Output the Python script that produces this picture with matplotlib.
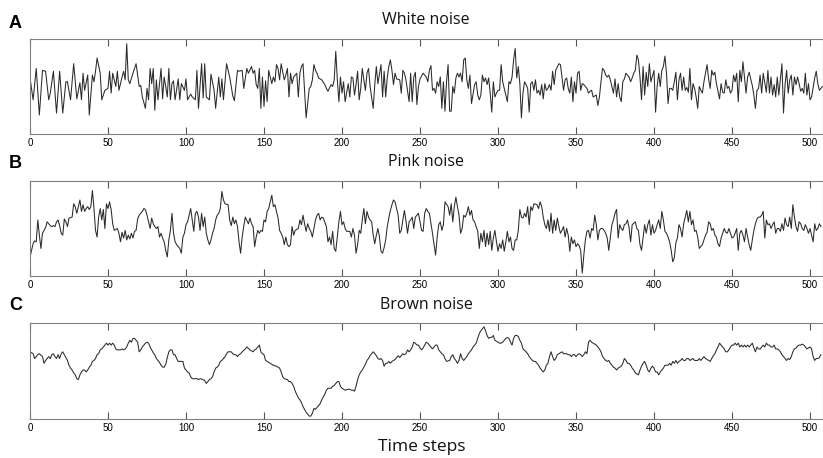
import numpy as np
import matplotlib
matplotlib.use("Agg")
import matplotlib.pyplot as plt

# (time step, level); level is 0 (axis bottom) .. 100 (axis top)
white_pts = [
    (0, 59), (2, 36), (4, 69), (6, 20), (8, 67), (10, 66), (12, 36), (13, 43), (15, 66), (17, 22),
    (19, 66), (21, 22), (23, 55), (24, 55), (26, 36), (28, 74), (30, 37), (32, 54), (33, 36), (34, 64),
    (35, 46), (37, 62), (38, 20), (40, 62), (41, 55), (42, 66), (43, 80), (45, 64), (46, 36), (48, 46),
    (50, 48), (51, 66), (52, 43), (53, 64), (55, 50), (56, 66), (57, 46), (59, 60), (60, 66), (61, 57),
    (62, 95), (63, 57), (64, 53), (66, 64), (68, 74), (70, 50), (71, 51), (72, 39), (74, 27), (75, 48),
    (76, 36), (77, 69), (78, 53), (79, 69), (80, 25), (81, 57), (82, 36), (84, 69), (85, 37), (86, 60),
    (87, 50), (88, 39), (89, 69), (90, 36), (91, 53), (92, 56), (93, 36), (95, 58), (96, 36), (97, 53),
    (99, 46), (100, 58), (101, 36), (103, 42), (104, 39), (106, 36), (107, 67), (108, 27), (110, 74), (111, 38),
    (112, 74), (113, 39), (115, 36), (116, 63), (118, 46), (119, 27), (121, 60), (122, 39), (123, 58), (124, 36),
    (126, 74), (128, 60), (130, 40), (131, 35), (133, 67), (134, 66), (136, 67), (137, 48), (139, 69), (140, 64),
    (142, 71), (143, 64), (144, 67), (145, 52), (146, 48), (147, 69), (148, 27), (149, 60), (150, 29), (151, 56),
    (152, 34), (153, 67), (155, 53), (156, 60), (157, 55), (158, 73), (159, 69), (160, 57), (161, 74), (163, 57),
    (164, 62), (165, 69), (166, 39), (167, 64), (168, 53), (169, 60), (171, 64), (172, 39), (173, 64), (174, 71),
    (175, 74), (176, 46), (177, 17), (179, 48), (180, 50), (181, 57), (182, 73), (183, 67), (184, 64), (185, 59),
    (187, 57), (189, 52), (190, 48), (191, 45), (193, 52), (194, 50), (195, 57), (196, 87), (197, 57), (198, 34),
    (199, 60), (200, 43), (201, 55), (202, 34), (204, 53), (205, 39), (206, 60), (207, 59), (208, 41), (209, 52),
    (210, 66), (211, 36), (212, 48), (213, 69), (214, 57), (215, 46), (216, 64), (217, 69), (218, 50), (220, 27),
    (221, 52), (222, 71), (223, 53), (225, 73), (226, 39), (227, 66), (228, 39), (229, 59), (230, 71), (231, 78),
    (232, 67), (233, 52), (234, 64), (235, 58), (237, 57), (238, 43), (239, 67), (240, 64), (241, 57), (243, 34),
    (244, 64), (245, 34), (246, 60), (247, 65), (248, 31), (249, 50), (250, 58), (252, 64), (254, 60), (255, 55),
    (256, 67), (257, 72), (258, 46), (259, 48), (260, 43), (261, 55), (262, 50), (263, 60), (264, 27), (265, 55),
    (266, 24), (267, 55), (268, 73), (269, 24), (270, 24), (271, 50), (272, 43), (273, 59), (274, 64), (275, 60),
    (276, 64), (277, 55), (278, 78), (279, 80), (280, 57), (281, 48), (282, 62), (283, 32), (285, 52), (286, 55),
    (287, 41), (288, 36), (289, 41), (290, 62), (291, 55), (292, 59), (293, 52), (294, 59), (295, 43), (296, 23),
    (297, 55), (298, 39), (299, 43), (300, 46), (301, 46), (302, 73), (303, 55), (304, 48), (305, 41), (306, 34),
    (307, 55), (308, 53), (309, 60), (310, 78), (311, 90), (312, 59), (313, 71), (314, 53), (315, 17), (316, 43),
    (317, 55), (318, 52), (319, 48), (320, 23), (321, 53), (322, 55), (323, 46), (324, 57), (325, 43), (326, 46),
    (327, 41), (328, 52), (329, 37), (330, 53), (331, 46), (332, 48), (333, 52), (334, 46), (335, 66), (336, 52),
    (337, 67), (339, 74), (340, 73), (341, 60), (342, 46), (343, 57), (344, 59), (345, 48), (346, 43), (347, 60),
    (348, 34), (349, 55), (350, 43), (351, 64), (352, 66), (353, 46), (354, 53), (355, 52), (356, 50), (357, 48),
    (358, 43), (359, 45), (360, 46), (361, 39), (363, 41), (364, 30), (365, 39), (366, 55), (367, 69), (368, 67),
    (369, 62), (370, 60), (371, 62), (372, 57), (374, 43), (375, 58), (376, 39), (377, 53), (378, 39), (379, 34),
    (380, 55), (381, 58), (382, 64), (384, 60), (385, 55), (386, 59), (387, 64), (388, 67), (389, 83), (390, 78),
    (391, 60), (392, 36), (393, 71), (394, 41), (395, 65), (396, 50), (397, 74), (398, 55), (400, 67), (401, 23),
    (402, 50), (403, 64), (404, 50), (405, 67), (406, 71), (407, 82), (408, 64), (409, 32), (410, 48), (411, 48),
    (412, 46), (413, 55), (414, 65), (415, 36), (416, 57), (417, 64), (418, 46), (419, 60), (420, 46), (421, 49),
    (422, 44), (423, 69), (424, 36), (425, 53), (426, 48), (427, 39), (428, 27), (429, 50), (430, 46), (431, 43),
    (432, 55), (434, 73), (435, 58), (436, 48), (437, 67), (438, 62), (439, 65), (440, 53), (442, 37), (443, 53),
    (444, 44), (445, 43), (446, 57), (447, 48), (448, 50), (449, 43), (450, 46), (451, 62), (452, 55), (453, 64),
    (454, 34), (455, 67), (456, 55), (457, 76), (458, 60), (459, 43), (460, 60), (461, 65), (462, 58), (463, 51),
    (464, 41), (465, 27), (466, 46), (467, 48), (468, 62), (469, 43), (470, 64), (472, 44), (473, 67), (474, 43),
    (475, 60), (476, 41), (477, 52), (478, 39), (479, 60), (480, 41), (482, 74), (483, 22), (484, 52), (485, 67),
    (486, 43), (487, 57), (488, 62), (489, 41), (490, 60), (491, 52), (492, 60), (493, 53), (494, 45), (495, 48),
    (496, 43), (497, 64), (498, 41), (499, 53), (500, 36), (501, 39), (503, 59), (504, 66), (505, 53), (506, 46),
    (508, 50),
]

pink_pts = [
    (0, 20), (1, 27), (2, 34), (3, 37), (4, 36), (5, 59), (6, 43), (7, 29), (8, 45), (10, 51),
    (11, 57), (12, 55), (13, 53), (14, 52), (15, 53), (16, 52), (17, 57), (18, 59), (19, 53), (20, 45),
    (21, 43), (22, 60), (23, 57), (24, 52), (25, 61), (27, 62), (28, 76), (29, 73), (30, 66), (31, 73),
    (32, 80), (33, 68), (34, 75), (35, 68), (36, 71), (37, 73), (38, 70), (39, 73), (40, 90), (41, 71),
    (42, 48), (43, 41), (44, 62), (45, 71), (46, 59), (47, 70), (48, 50), (49, 76), (50, 71), (51, 78),
    (52, 70), (53, 55), (54, 48), (56, 50), (57, 45), (58, 36), (59, 46), (60, 40), (61, 48), (62, 38),
    (63, 43), (64, 39), (65, 45), (66, 40), (67, 47), (68, 48), (69, 60), (70, 64), (71, 66), (72, 68),
    (73, 71), (74, 70), (75, 64), (76, 57), (77, 50), (78, 61), (79, 55), (80, 52), (81, 50), (82, 52),
    (83, 41), (84, 45), (85, 40), (86, 36), (87, 27), (88, 20), (89, 38), (90, 48), (91, 66), (92, 45),
    (93, 36), (94, 33), (95, 31), (96, 29), (97, 24), (98, 41), (99, 45), (100, 54), (101, 57), (102, 64),
    (103, 71), (104, 59), (105, 47), (106, 66), (107, 68), (108, 62), (109, 48), (110, 66), (111, 52), (112, 62),
    (113, 45), (114, 38), (115, 33), (116, 38), (117, 45), (118, 50), (119, 59), (120, 64), (121, 66), (122, 71),
    (123, 89), (124, 80), (125, 76), (127, 75), (128, 59), (129, 53), (130, 62), (131, 55), (132, 59), (133, 52),
    (134, 36), (135, 24), (136, 41), (137, 52), (138, 62), (140, 55), (141, 61), (142, 55), (143, 52), (144, 31),
    (145, 41), (146, 48), (147, 45), (148, 48), (149, 47), (150, 59), (151, 57), (152, 68), (153, 71), (154, 78),
    (155, 85), (156, 73), (157, 75), (158, 68), (159, 61), (160, 48), (161, 45), (162, 41), (163, 33), (164, 41),
    (165, 33), (166, 31), (167, 33), (168, 52), (169, 43), (170, 48), (172, 50), (173, 59), (174, 54), (175, 64),
    (176, 55), (177, 47), (178, 55), (179, 50), (180, 47), (181, 41), (182, 50), (183, 59), (184, 64), (185, 66),
    (186, 59), (187, 62), (188, 61), (190, 52), (191, 36), (192, 41), (193, 33), (194, 47), (195, 29), (196, 26),
    (197, 41), (198, 57), (199, 68), (200, 54), (201, 57), (202, 50), (203, 47), (205, 47), (206, 41), (207, 50),
    (208, 43), (209, 24), (210, 33), (211, 48), (212, 45), (213, 59), (214, 71), (215, 55), (216, 68), (217, 62),
    (218, 59), (219, 57), (220, 43), (221, 34), (222, 43), (223, 50), (224, 41), (225, 26), (226, 24), (227, 30),
    (228, 38), (229, 52), (230, 61), (231, 69), (232, 75), (233, 80), (234, 78), (235, 71), (236, 64), (237, 45),
    (238, 48), (239, 59), (240, 69), (241, 58), (242, 45), (243, 57), (244, 59), (245, 62), (246, 50), (247, 62),
    (248, 64), (249, 66), (250, 57), (251, 48), (252, 47), (253, 66), (254, 71), (255, 68), (256, 66), (258, 45),
    (259, 33), (260, 22), (261, 41), (262, 54), (263, 57), (264, 48), (265, 54), (266, 78), (268, 73), (269, 64),
    (270, 76), (271, 57), (272, 73), (273, 83), (274, 73), (275, 64), (276, 45), (277, 50), (278, 64), (279, 62),
    (280, 66), (281, 73), (282, 64), (283, 69), (284, 59), (285, 57), (286, 52), (287, 47), (288, 29), (289, 45),
    (290, 36), (291, 48), (292, 31), (293, 45), (294, 33), (295, 47), (296, 27), (297, 40), (298, 48), (299, 36),
    (300, 26), (301, 34), (302, 29), (303, 38), (304, 26), (305, 36), (306, 47), (307, 36), (308, 41), (309, 29),
    (310, 27), (311, 38), (312, 38), (313, 48), (314, 70), (315, 62), (316, 61), (317, 66), (318, 62), (319, 73),
    (320, 54), (321, 73), (322, 69), (323, 76), (325, 75), (326, 71), (327, 78), (328, 73), (329, 62), (330, 54),
    (331, 50), (332, 59), (333, 47), (334, 66), (335, 45), (336, 59), (337, 48), (338, 61), (339, 52), (340, 45),
    (341, 48), (342, 52), (343, 41), (344, 50), (345, 43), (346, 26), (347, 41), (348, 34), (349, 38), (350, 31),
    (351, 34), (352, 32), (353, 27), (354, 3), (355, 22), (356, 38), (357, 47), (358, 48), (359, 40), (360, 50),
    (361, 48), (362, 64), (363, 54), (364, 38), (365, 48), (366, 50), (367, 50), (368, 48), (369, 45), (370, 40),
    (371, 27), (372, 41), (373, 54), (374, 59), (375, 66), (376, 70), (377, 40), (378, 54), (379, 50), (380, 48),
    (381, 54), (382, 55), (383, 59), (384, 51), (385, 36), (386, 54), (388, 57), (389, 50), (390, 48), (391, 33),
    (392, 27), (393, 41), (394, 54), (395, 45), (396, 54), (397, 59), (398, 43), (399, 54), (400, 45), (401, 48),
    (402, 54), (403, 59), (404, 50), (405, 68), (406, 59), (407, 47), (408, 45), (409, 41), (410, 36), (411, 27),
    (412, 15), (413, 19), (414, 35), (415, 40), (416, 54), (417, 50), (418, 41), (419, 55), (420, 62), (421, 69),
    (422, 57), (423, 68), (424, 54), (425, 59), (426, 47), (427, 48), (428, 41), (429, 29), (430, 31), (431, 33),
    (432, 38), (433, 43), (434, 46), (435, 57), (436, 55), (437, 48), (438, 50), (439, 43), (440, 41), (441, 34),
    (442, 31), (443, 40), (444, 45), (445, 50), (446, 46), (447, 45), (448, 50), (450, 40), (451, 41), (452, 45),
    (453, 50), (454, 27), (455, 45), (456, 48), (457, 43), (458, 36), (459, 50), (460, 41), (461, 33), (462, 27),
    (463, 38), (464, 48), (465, 55), (466, 60), (467, 62), (468, 62), (469, 64), (470, 68), (471, 40), (472, 59),
    (473, 54), (474, 55), (475, 50), (476, 54), (477, 57), (478, 45), (479, 50), (480, 50), (481, 47), (482, 55),
    (483, 48), (484, 61), (485, 54), (486, 52), (487, 62), (488, 50), (489, 75), (490, 62), (491, 52), (492, 47),
    (493, 57), (494, 55), (495, 50), (496, 48), (497, 54), (498, 50), (499, 45), (500, 50), (501, 43), (502, 36),
    (503, 55), (504, 48), (505, 50), (506, 55), (507, 52),
]

brown_pts = [
    (0, 70), (2, 68), (3, 63), (4, 65), (5, 67), (6, 68), (8, 65), (9, 58), (10, 61), (11, 63),
    (12, 65), (13, 63), (14, 67), (15, 68), (16, 65), (17, 63), (18, 67), (19, 63), (20, 68), (21, 70),
    (22, 67), (24, 61), (25, 56), (26, 53), (27, 51), (28, 48), (29, 46), (30, 42), (31, 41), (32, 46),
    (33, 49), (34, 51), (35, 51), (36, 49), (37, 51), (38, 54), (39, 56), (40, 60), (41, 61), (42, 63),
    (43, 67), (44, 68), (45, 72), (46, 73), (47, 75), (48, 77), (49, 79), (50, 77), (51, 79), (52, 77),
    (53, 79), (54, 77), (55, 73), (56, 72), (58, 72), (59, 73), (60, 72), (61, 73), (62, 75), (63, 79),
    (64, 82), (65, 80), (66, 84), (67, 84), (68, 82), (69, 80), (70, 70), (71, 72), (72, 75), (74, 79),
    (75, 80), (76, 79), (77, 75), (78, 72), (79, 69), (80, 67), (81, 63), (82, 61), (83, 59), (84, 56),
    (85, 54), (86, 54), (87, 57), (88, 64), (89, 70), (90, 72), (91, 72), (92, 67), (93, 67), (94, 63),
    (95, 60), (96, 60), (97, 60), (98, 60), (99, 53), (100, 51), (101, 49), (102, 48), (103, 44), (104, 42),
    (105, 42), (107, 42), (108, 41), (109, 42), (111, 41), (112, 40), (113, 37), (114, 39), (115, 41), (116, 42),
    (117, 44), (118, 49), (119, 53), (120, 54), (121, 56), (122, 60), (123, 61), (125, 65), (126, 68), (127, 70),
    (128, 70), (129, 70), (130, 68), (131, 67), (132, 67), (133, 65), (134, 67), (135, 68), (136, 70), (138, 73),
    (139, 75), (141, 72), (143, 70), (144, 72), (145, 73), (146, 75), (147, 77), (148, 70), (149, 68), (150, 67),
    (151, 61), (152, 60), (154, 58), (156, 56), (158, 55), (160, 53), (161, 49), (162, 44), (163, 42), (165, 41),
    (166, 39), (167, 39), (168, 37), (169, 34), (170, 29), (172, 22), (173, 20), (174, 17), (175, 13), (176, 10),
    (177, 7), (178, 5), (179, 3), (180, 3), (181, 6), (182, 11), (183, 10), (184, 12), (185, 14), (186, 16),
    (187, 20), (188, 23), (189, 26), (190, 30), (191, 32), (193, 32), (194, 34), (195, 35), (196, 37), (197, 39),
    (198, 39), (199, 34), (200, 32), (201, 31), (202, 30), (204, 31), (205, 31), (206, 30), (207, 30), (208, 29),
    (209, 34), (210, 41), (211, 46), (212, 49), (213, 51), (214, 54), (215, 57), (216, 61), (217, 63), (218, 66),
    (219, 68), (220, 70), (221, 68), (222, 66), (223, 63), (224, 62), (225, 63), (226, 61), (227, 55), (228, 58),
    (229, 58), (230, 60), (231, 58), (232, 60), (233, 61), (234, 62), (235, 64), (236, 66), (237, 64), (238, 66),
    (239, 68), (240, 67), (241, 68), (242, 72), (243, 70), (244, 72), (245, 75), (246, 80), (247, 79), (248, 77),
    (249, 77), (250, 74), (251, 72), (252, 74), (253, 77), (254, 80), (255, 79), (256, 77), (257, 75), (258, 73),
    (259, 75), (260, 77), (261, 77), (262, 72), (263, 70), (264, 68), (265, 67), (266, 63), (267, 60), (269, 61),
    (270, 65), (271, 67), (272, 63), (273, 61), (274, 58), (275, 61), (276, 68), (277, 63), (278, 61), (279, 63),
    (280, 65), (281, 68), (282, 70), (283, 72), (284, 75), (286, 79), (287, 84), (288, 89), (289, 92), (290, 94),
    (291, 96), (292, 92), (293, 87), (294, 84), (295, 85), (296, 85), (297, 87), (298, 82), (300, 80), (301, 79),
    (302, 79), (303, 80), (304, 82), (305, 84), (306, 85), (307, 84), (308, 80), (309, 77), (310, 84), (311, 87),
    (312, 87), (313, 86), (314, 82), (315, 79), (316, 73), (318, 70), (319, 68), (320, 65), (321, 63), (322, 61),
    (323, 60), (324, 60), (325, 58), (326, 56), (327, 53), (328, 51), (329, 49), (330, 51), (331, 56), (332, 58),
    (333, 65), (334, 70), (335, 65), (336, 61), (337, 63), (338, 67), (339, 68), (341, 70), (342, 68), (344, 68),
    (345, 67), (346, 67), (347, 65), (348, 67), (349, 67), (350, 65), (351, 67), (352, 68), (353, 67), (354, 65),
    (355, 67), (356, 70), (357, 68), (358, 80), (359, 82), (360, 80), (361, 79), (362, 78), (363, 77), (364, 75),
    (365, 73), (366, 70), (367, 65), (368, 63), (369, 61), (370, 60), (371, 61), (372, 58), (373, 56), (374, 54),
    (375, 53), (376, 51), (377, 53), (378, 54), (379, 55), (380, 58), (381, 63), (382, 61), (383, 58), (384, 58),
    (385, 56), (386, 53), (387, 51), (388, 48), (390, 46), (391, 51), (392, 55), (393, 58), (394, 60), (395, 56),
    (396, 51), (397, 49), (398, 53), (399, 55), (400, 53), (401, 49), (402, 49), (403, 46), (404, 49), (405, 51),
    (406, 53), (407, 56), (408, 56), (409, 56), (410, 58), (411, 56), (412, 60), (413, 58), (414, 61), (415, 58),
    (416, 60), (417, 61), (418, 63), (419, 61), (420, 61), (421, 63), (422, 63), (423, 61), (424, 62), (425, 63),
    (426, 61), (427, 61), (428, 61), (429, 63), (430, 61), (431, 63), (432, 65), (433, 63), (434, 62), (435, 61),
    (436, 60), (437, 63), (438, 66), (439, 68), (440, 72), (441, 75), (442, 79), (443, 77), (444, 75), (445, 73),
    (446, 70), (447, 70), (448, 72), (449, 75), (450, 77), (451, 77), (452, 79), (453, 77), (454, 79), (455, 75),
    (456, 77), (457, 75), (458, 77), (459, 75), (460, 77), (461, 75), (462, 77), (463, 79), (464, 74), (465, 70),
    (466, 75), (467, 73), (468, 73), (469, 75), (470, 77), (471, 75), (472, 79), (473, 77), (474, 77), (475, 75),
    (476, 75), (477, 77), (478, 73), (479, 73), (480, 72), (481, 70), (482, 67), (483, 65), (484, 63), (485, 61),
    (486, 63), (487, 62), (488, 65), (489, 70), (490, 73), (491, 74), (492, 76), (493, 77), (494, 77), (495, 78),
    (496, 77), (497, 75), (498, 73), (499, 74), (500, 75), (501, 73), (502, 65), (503, 61), (504, 63), (505, 63),
    (506, 64), (507, 67),
]

titles = ["White noise", "Pink noise", "Brown noise"]
panel_letters = ["A", "B", "C"]
xticks = list(range(0, 501, 50))

W, H = 823, 458
fig = plt.figure(figsize=(W / 100, H / 100), dpi=100)

# axes boxes in pixels: (left, top, right, bottom)
boxes = [(30, 39, 822.5, 134), (30, 181, 822.5, 276), (30, 323, 822.5, 419)]
title_y = [20, 162, 305]
letter_y = [23, 163, 305]

series = [white_pts, pink_pts, brown_pts]
for i, pts in enumerate(series):
    l, t, r, b = boxes[i]
    ax = fig.add_axes([l / W, 1 - b / H, (r - l) / W, (b - t) / H])
    t_steps, vals = np.array(pts).T
    ax.plot(t_steps, vals, color="#2a2a2a", lw=0.75)
    ax.set_xlim(0, 508)
    ax.set_ylim(0, 100)
    ax.set_yticks([])
    ax.set_xticks(xticks)
    ax.tick_params(axis="x", direction="in", top=True, length=5, width=0.8,
                   color="#555555", labelsize=7, pad=3)
    for lab in ax.get_xticklabels():
        lab.set_family("Liberation Sans")
    for sp in ax.spines.values():
        sp.set_color("#808080")
        sp.set_linewidth(0.8)

    fig.text((l + r) / 2 / W, 1 - title_y[i] / H, titles[i], ha="center", va="center",
             fontsize=11.5, family="Open Sans", color="#111111")
    fig.text(15.5 / W, 1 - letter_y[i] / H, panel_letters[i], ha="center", va="center",
             fontsize=13, fontweight="bold", family="Liberation Sans")

fig.text(422 / W, 1 - 447 / H, "Time steps", ha="center", va="center",
         fontsize=12.5, family="Open Sans", color="#111111")

fig.savefig("out.png", dpi=100)
